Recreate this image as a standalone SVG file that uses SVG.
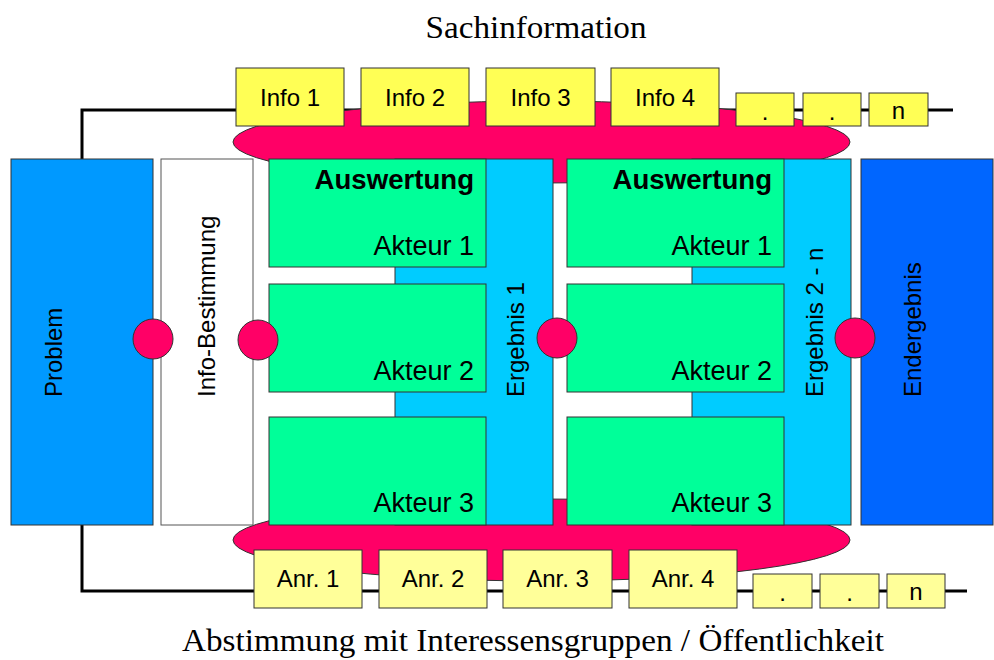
<svg xmlns="http://www.w3.org/2000/svg" width="994" height="660" viewBox="0 0 994 660">
  <style>
    .bg { fill: #ffffff; }
    .box { stroke: #333333; stroke-width: 1; }
    .problem { fill: #0099ff; }
    .final { fill: #0066ff; }
    .result { fill: #00ccff; }
    .actor { fill: #00ff99; }
    .plain { fill: #ffffff; stroke: #555555; }
    .info { fill: #ffff55; }
    .anr { fill: #ffff99; }
    .blob { fill: #ff0066; stroke: #333333; stroke-width: 1; }
    .wire { fill: none; stroke: #000000; stroke-width: 3; }
    .t { font-family: "Liberation Sans", Arial, sans-serif; fill: #000000; }
    .lbl { font-size: 24px; text-anchor: middle; }
    .act { font-size: 27px; text-anchor: end; }
    .head { font-size: 27.6px; font-weight: bold; text-anchor: end; }
    .vert { font-size: 24px; text-anchor: start; }
    .title { font-family: "Liberation Serif", "Times New Roman", serif; font-size: 32px; text-anchor: middle; fill: #000000; }
  </style>

  <rect class="bg" x="0" y="0" width="994" height="660"/>

  <!-- titles -->
  <text class="title" x="536" y="38" textLength="221" lengthAdjust="spacingAndGlyphs">Sachinformation</text>
  <text class="title" x="533" y="651" textLength="702" lengthAdjust="spacingAndGlyphs">Abstimmung mit Interessensgruppen / Öffentlichkeit</text>

  <!-- lines feeding information and stakeholder input -->
  <g id="connectors">
    <polyline class="wire" points="82,159 82,110 953,110"/>
    <polyline class="wire" points="82,525 82,591 967,591"/>
  </g>

  <!-- shared pools behind the evaluation blocks -->
  <g id="pool-info">
    <ellipse class="blob" cx="541.5" cy="142" rx="308.5" ry="41"/>
  </g>
  <g id="pool-anr">
    <ellipse class="blob" cx="541.5" cy="540" rx="308.5" ry="41"/>
  </g>

  <!-- main stages -->
  <g id="problem">
    <rect class="box problem" x="11" y="159" width="142" height="366"/>
    <text class="t vert" transform="translate(62,397) rotate(-90)">Problem</text>
  </g>
  <g id="info-bestimmung">
    <rect class="box plain" x="161" y="159" width="92" height="366"/>
    <text class="t vert" transform="translate(215,397) rotate(-90)">Info-Bestimmung</text>
  </g>
  <g id="ergebnis-1">
    <rect class="box result" x="395" y="159" width="158" height="366"/>
    <text class="t vert" transform="translate(524,397) rotate(-90)">Ergebnis 1</text>
  </g>
  <g id="ergebnis-2-n">
    <rect class="box result" x="692" y="159" width="159" height="366"/>
    <text class="t vert" transform="translate(823,397) rotate(-90)">Ergebnis 2 - n</text>
  </g>
  <g id="endergebnis">
    <rect class="box final" x="861" y="159" width="132" height="366"/>
    <text class="t vert" transform="translate(921,397) rotate(-90)">Endergebnis</text>
  </g>

  <!-- first evaluation round -->
  <g id="auswertung-1-akteur-1">
    <rect class="box actor" x="269" y="159" width="217" height="108"/>
    <text class="t head" x="474" y="189">Auswertung</text>
    <text class="t act" x="474" y="255">Akteur 1</text>
  </g>
  <g id="auswertung-1-akteur-2">
    <rect class="box actor" x="269" y="284" width="217" height="108"/>
    <text class="t act" x="474" y="380">Akteur 2</text>
  </g>
  <g id="auswertung-1-akteur-3">
    <rect class="box actor" x="269" y="417" width="217" height="108"/>
    <text class="t act" x="474" y="512">Akteur 3</text>
  </g>

  <!-- further evaluation rounds -->
  <g id="auswertung-2-akteur-1">
    <rect class="box actor" x="567" y="159" width="217" height="108"/>
    <text class="t head" x="772" y="189">Auswertung</text>
    <text class="t act" x="772" y="255">Akteur 1</text>
  </g>
  <g id="auswertung-2-akteur-2">
    <rect class="box actor" x="567" y="284" width="217" height="108"/>
    <text class="t act" x="772" y="380">Akteur 2</text>
  </g>
  <g id="auswertung-2-akteur-3">
    <rect class="box actor" x="567" y="417" width="217" height="108"/>
    <text class="t act" x="772" y="512">Akteur 3</text>
  </g>

  <!-- information items -->
  <g id="info-1"><rect class="box info" x="236" y="68" width="108" height="58"/><text class="t lbl" x="290" y="106">Info 1</text></g>
  <g id="info-2"><rect class="box info" x="361" y="68" width="108" height="58"/><text class="t lbl" x="415" y="106">Info 2</text></g>
  <g id="info-3"><rect class="box info" x="486" y="68" width="109" height="58"/><text class="t lbl" x="540.5" y="106">Info 3</text></g>
  <g id="info-4"><rect class="box info" x="611" y="68" width="108" height="58"/><text class="t lbl" x="665" y="106">Info 4</text></g>
  <g id="info-dot-1"><rect class="box info" x="736" y="93" width="58" height="33"/><text class="t lbl" x="765" y="120">.</text></g>
  <g id="info-dot-2"><rect class="box info" x="803" y="93" width="58" height="33"/><text class="t lbl" x="832" y="120">.</text></g>
  <g id="info-n"><rect class="box info" x="869" y="93" width="59" height="33"/><text class="t lbl" x="898.5" y="119">n</text></g>

  <!-- stakeholder contributions -->
  <g id="anr-1"><rect class="box anr" x="254" y="550" width="108" height="58"/><text class="t lbl" x="308" y="587">Anr. 1</text></g>
  <g id="anr-2"><rect class="box anr" x="379" y="550" width="108" height="58"/><text class="t lbl" x="433" y="587">Anr. 2</text></g>
  <g id="anr-3"><rect class="box anr" x="503" y="550" width="109" height="58"/><text class="t lbl" x="557.5" y="587">Anr. 3</text></g>
  <g id="anr-4"><rect class="box anr" x="629" y="550" width="108" height="58"/><text class="t lbl" x="683" y="587">Anr. 4</text></g>
  <g id="anr-dot-1"><rect class="box anr" x="753" y="574" width="59" height="34"/><text class="t lbl" x="782.5" y="601">.</text></g>
  <g id="anr-dot-2"><rect class="box anr" x="820" y="574" width="59" height="34"/><text class="t lbl" x="849.5" y="601">.</text></g>
  <g id="anr-n"><rect class="box anr" x="887" y="574" width="58" height="34"/><text class="t lbl" x="916" y="600">n</text></g>

  <!-- junctions between stages -->
  <g id="junctions">
    <circle class="blob" cx="153" cy="339" r="20"/>
    <circle class="blob" cx="258" cy="340" r="20"/>
    <circle class="blob" cx="557" cy="338" r="20"/>
    <circle class="blob" cx="855" cy="338" r="20"/>
  </g>
</svg>
